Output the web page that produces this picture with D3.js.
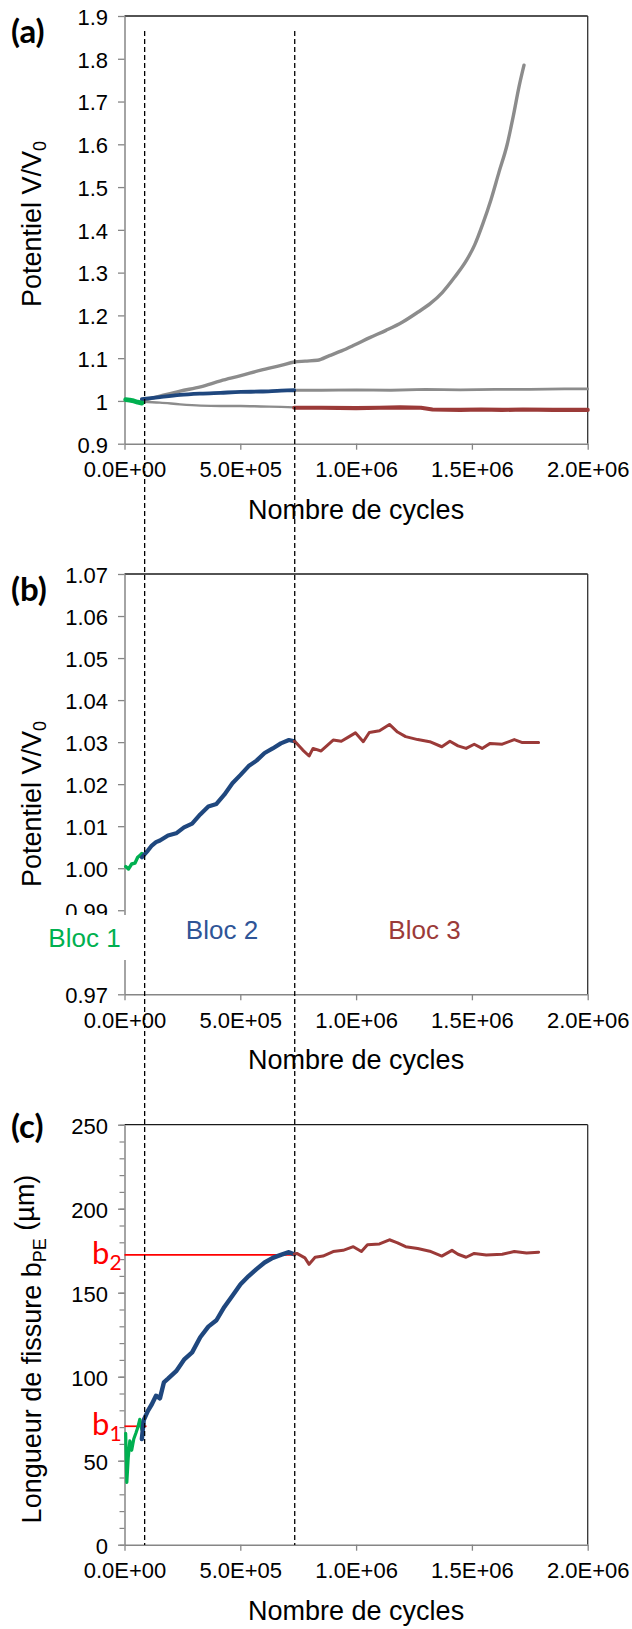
<!DOCTYPE html>
<html>
<head>
<meta charset="utf-8">
<script src="https://cdn.jsdelivr.net/npm/d3@7"></script>
<style>
  body { margin: 0; background: #fff; }
  text { font-family: "Liberation Sans", Arial, sans-serif; fill: #000; }
</style>
</head>
<body>
<svg id="fig" width="632" height="1629"></svg>
<script>
// ---------- shared x axis ----------
const xTicks = [0, 5e5, 1e6, 1.5e6, 2e6];
const xTickLabels = ["0.0E+00", "5.0E+05", "1.0E+06", "1.5E+06", "2.0E+06"];
const xTitle = "Nombre de cycles";

// block boundaries (cycles) drawn as dashed verticals
const blockLimits = [87000, 735000];
const blockNames = ["Bloc 1", "Bloc 2", "Bloc 3"];

// ---------- (a) normalised potential, all specimens ----------
const aTicks = [0.9, 1.0, 1.1, 1.2, 1.3, 1.4, 1.5, 1.6, 1.7, 1.8, 1.9];
const aTickLabels = ["0.9", "1", "1.1", "1.2", "1.3", "1.4", "1.5", "1.6", "1.7", "1.8", "1.9"];
const aRising = [[75000,1.000],[153000,1.011],[240000,1.023],[328000,1.033],[415000,1.047],[502000,1.059],
  [589000,1.072],[676000,1.083],[733000,1.091],[780000,1.093],[833000,1.095],[885000,1.106],[937000,1.117],
  [990000,1.130],[1059000,1.148],[1129000,1.165],[1199000,1.184],[1268000,1.208],[1321000,1.228],
  [1373000,1.254],[1425000,1.289],[1477000,1.329],[1512000,1.365],[1547000,1.414],[1582000,1.470],
  [1617000,1.535],[1652000,1.599],[1678000,1.664],[1704000,1.736],[1725000,1.785]];
const aUpperRest = [[733000,1.025],[850000,1.025],[1000000,1.026],[1150000,1.025],[1300000,1.027],
  [1450000,1.026],[1600000,1.027],[1750000,1.027],[1900000,1.028],[2000000,1.028]];
const aLowerStart = [[75000,0.998],[153000,0.996],[240000,0.992],[328000,0.989],[415000,0.988],
  [502000,0.988],[589000,0.987],[676000,0.986],[733000,0.985]];
const aGreen = [[5000,1.003],[22000,1.002],[40000,1.000],[57000,0.997],[75000,0.995]];
const aBlue = [[75000,1.004],[153000,1.009],[240000,1.014],[328000,1.017],[415000,1.019],[502000,1.021],
  [589000,1.022],[676000,1.024],[733000,1.025]];
const aRed = [[733000,0.984],[850000,0.984],[1000000,0.983],[1100000,0.984],[1190000,0.985],[1280000,0.984],
  [1330000,0.980],[1450000,0.979],[1540000,0.980],[1630000,0.979],[1720000,0.980],[1850000,0.979],[2000000,0.979]];

// ---------- (b) normalised potential, selected specimen ----------
const bTicks = [0.97, 0.99, 1.00, 1.01, 1.02, 1.03, 1.04, 1.05, 1.06, 1.07];
const bTickLabels = ["0.97", "0.99", "1.00", "1.01", "1.02", "1.03", "1.04", "1.05", "1.06", "1.07"];
const bGreen = [[5000,1.0004],[17000,0.9998],[31000,1.0010],[45000,1.0012],[57000,1.0026],[66000,1.0030],[75000,1.0035]];
const bBlue = [[75000,1.0026],[101000,1.0042],[118000,1.0054],[136000,1.0062],[153000,1.0066],[188000,1.0078],
  [223000,1.0083],[257000,1.0097],[292000,1.0106],[327000,1.0128],[362000,1.0147],[397000,1.0153],
  [431000,1.0175],[466000,1.0202],[501000,1.0222],[536000,1.0243],[570000,1.0256],[605000,1.0274],
  [640000,1.0285],[675000,1.0297],[710000,1.0305],[733000,1.0302]];
const bRed = [[733000,1.0302],[744000,1.0297],[770000,1.0281],[797000,1.0267],[814000,1.0285],[849000,1.0279],
  [901000,1.0305],[936000,1.0302],[970000,1.0313],[997000,1.0322],[1031000,1.0301],[1057000,1.0323],
  [1101000,1.0327],[1144000,1.0342],[1179000,1.0324],[1214000,1.0313],[1266000,1.0306],[1318000,1.0301],
  [1370000,1.0289],[1405000,1.0302],[1440000,1.0291],[1475000,1.0285],[1510000,1.0295],[1544000,1.0285],
  [1579000,1.0297],[1631000,1.0295],[1683000,1.0306],[1718000,1.0299],[1788000,1.0299]];

// ---------- (c) crack length ----------
const cTicks = [0, 50, 100, 150, 200, 250];
const cTickLabels = ["0", "50", "100", "150", "200", "250"];
const cMinorTicks = d3.range(0, 251, 10);
const cGreen = [[5000,66.3],[10000,37.1],[16000,51.7],[23000,61.8],[31000,56.2],[40000,62.9],[49000,66.3],
  [57000,69.6],[66000,74.6],[75000,68.5]];
const cBlue = [[75000,62.9],[83000,74.1],[101000,79.7],[118000,83.6],[136000,88.7],[153000,87.1],[170000,96.6],
  [188000,98.8],[223000,103.3],[257000,110.1],[292000,114.5],[327000,123.5],[362000,129.8],[397000,133.6],
  [431000,141.5],[466000,148.2],[501000,155.0],[536000,159.9],[570000,164.0],[605000,168.0],[640000,170.7],
  [675000,172.5],[710000,174.1],[733000,172.9]];
const cRed = [[733000,172.9],[744000,173.4],[779000,170.7],[797000,166.9],[823000,171.1],[857000,171.8],
  [901000,174.5],[944000,175.2],[988000,177.4],[1023000,174.5],[1049000,178.6],[1101000,179.0],
  [1144000,181.5],[1179000,179.7],[1214000,177.4],[1266000,176.3],[1318000,174.7],[1370000,171.8],
  [1414000,175.2],[1440000,172.9],[1475000,171.1],[1510000,173.4],[1562000,172.5],[1631000,172.9],
  [1683000,174.5],[1736000,173.6],[1788000,174.1]];
const crackMarks = [{ name: "b", sub: "1", value: 70.5, until: 95000 }, { name: "b", sub: "2", value: 172.5, until: 735000 }];

// ---------- drawing ----------
const svg = d3.select("#fig");
const GREEN = "#00b050", BLUE = "#1f477e", RED = "#9b3a38", GREY = "#8c8c8c", AXIS = "#868686";
const X0 = 124.5, X1 = 587.7;
const x = d3.scaleLinear().domain([0, 2e6]).range([X0, X1]);

const panels = [
  { tag: "(a)", top: 16, bottom: 443.7, domain: [0.9, 1.9], ticks: aTicks, labels: aTickLabels, titleY: 224,
    yTitle: ["Potentiel V/V", "0", ""] },
  { tag: "(b)", top: 574, bottom: 994.3, domain: [0.97, 1.07], ticks: bTicks, labels: bTickLabels, titleY: 804,
    yTitle: ["Potentiel V/V", "0", ""] },
  { tag: "(c)", top: 1124.7, bottom: 1544.7, domain: [0, 250], ticks: cTicks, labels: cTickLabels, titleY: 1349,
    yTitle: ["Longueur de fissure b", "PE", " (µm)"], minor: cMinorTicks }
];

function drawFrame(p) {
  const y = d3.scaleLinear().domain(p.domain).range([p.bottom, p.top]);
  const g = svg.append("g");
  g.append("line").attr("x1", X0).attr("x2", X1).attr("y1", p.top).attr("y2", p.top)
    .attr("stroke", "#1a1a1a").attr("stroke-width", 1.3);
  g.append("line").attr("x1", X1).attr("x2", X1).attr("y1", p.top).attr("y2", p.bottom)
    .attr("stroke", "#333").attr("stroke-width", 1.3);

  if (p.minor) {
    const mg = g.append("g").attr("transform", `translate(${X0},0)`)
      .call(d3.axisLeft(y).tickValues(p.minor).tickFormat("").tickSize(5).tickSizeOuter(0));
    mg.select(".domain").remove();
    mg.selectAll("line").attr("stroke", AXIS).attr("stroke-width", 1.2);
  }
  const yg = g.append("g").attr("transform", `translate(${X0},0)`)
    .call(d3.axisLeft(y).tickValues(p.ticks).tickFormat((d, i) => p.labels[i])
      .tickSize(6.5).tickPadding(10).tickSizeOuter(0));
  const xg = g.append("g").attr("transform", `translate(0,${p.bottom})`)
    .call(d3.axisBottom(x).tickValues(xTicks).tickFormat((d, i) => xTickLabels[i])
      .tickSize(6).tickPadding(12).tickSizeOuter(0));
  [yg, xg].forEach(a => {
    a.select(".domain").attr("stroke", AXIS).attr("stroke-width", 1.5);
    a.selectAll(".tick line").attr("stroke", AXIS).attr("stroke-width", 1.3);
    a.selectAll(".tick text").attr("fill", "#000").style("font-size", "22px")
      .style("font-family", '"Liberation Sans", Arial, sans-serif');
  });
  yg.selectAll(".tick text").attr("dy", "0.38em");

  // axis titles
  g.append("text").attr("x", (X0 + X1) / 2).attr("y", p.bottom + 75).attr("text-anchor", "middle")
    .style("font-size", "27px").text(xTitle);
  const yt = g.append("text").attr("transform", `translate(41,${p.titleY}) rotate(-90)`)
    .attr("text-anchor", "middle").style("font-size", "27px");
  yt.append("tspan").text(p.yTitle[0]);
  yt.append("tspan").attr("dy", "0.3em").style("font-size", "18px").text(p.yTitle[1]);
  if (p.yTitle[2]) yt.append("tspan").attr("dy", "-0.45em").text(p.yTitle[2]);

  // panel tag
  g.append("text").attr("x", 11).attr("y", p.tag === "(c)" ? p.top + 13 : p.top + 27)
    .style("font-family", "Lato, 'Open Sans', sans-serif").style("font-weight", "bold")
    .style("font-size", "33px").text(p.tag);
  return y;
}

function drawSeries(y, data, color, width, curve) {
  svg.append("path").datum(data)
    .attr("d", d3.line().x(d => x(d[0])).y(d => y(d[1])).curve(curve || d3.curveLinear))
    .attr("fill", "none").attr("stroke", color).attr("stroke-width", width)
    .attr("stroke-linejoin", "round").attr("stroke-linecap", "round");
}

// (a)
const ya = drawFrame(panels[0]);
drawSeries(ya, aRising, GREY, 3.4, d3.curveMonotoneX);
drawSeries(ya, aUpperRest, GREY, 2.8);
drawSeries(ya, aLowerStart, GREY, 2.4, d3.curveMonotoneX);
drawSeries(ya, aBlue, BLUE, 3.8, d3.curveMonotoneX);
drawSeries(ya, aRed, RED, 4.2);
drawSeries(ya, aGreen, GREEN, 4.8);

// (b)
const yb = drawFrame(panels[1]);
drawSeries(yb, bGreen, GREEN, 3.4);
drawSeries(yb, bBlue, BLUE, 4.2);
drawSeries(yb, bRed, RED, 3);

// break in the (b) axis holding the first block name; the 0.99 label is cut by it
svg.append("rect").attr("x", 40).attr("y", 915).attr("width", 87).attr("height", 45).attr("fill", "#fff");
const blockColors = [GREEN, "#2f5597", "#9b3b39"];
const blockPos = [[84.5, 947], [222, 939], [424.5, 939]];
blockNames.forEach((n, i) => {
  svg.append("text").attr("x", blockPos[i][0]).attr("y", blockPos[i][1]).attr("text-anchor", "middle")
    .style("font-size", "26px").style("fill", blockColors[i]).text(n);
});

// (c)
const yc = drawFrame(panels[2]);
crackMarks.forEach(m => {
  svg.append("line").attr("x1", X0).attr("x2", x(m.until)).attr("y1", yc(m.value)).attr("y2", yc(m.value))
    .attr("stroke", "#ff0000").attr("stroke-width", 1.7);
  const t = svg.append("text").attr("x", 92).attr("y", yc(m.value) + 9)
    .style("font-family", "Lato, 'Open Sans', sans-serif").style("font-size", "31px").style("fill", "#ff0000");
  t.append("tspan").text(m.name);
  t.append("tspan").attr("dy", 6).style("font-size", "21px").text(m.sub);
});
drawSeries(yc, cGreen, GREEN, 3.2);
drawSeries(yc, cBlue, BLUE, 4.4);
drawSeries(yc, cRed, RED, 3);

// dashed block limits spanning the three panels
blockLimits.forEach(v => {
  svg.append("line").attr("x1", x(v)).attr("x2", x(v)).attr("y1", 31).attr("y2", 1545)
    .attr("stroke", "#000").attr("stroke-width", 1.3).attr("stroke-dasharray", "5,3");
});
</script>
</body>
</html>
